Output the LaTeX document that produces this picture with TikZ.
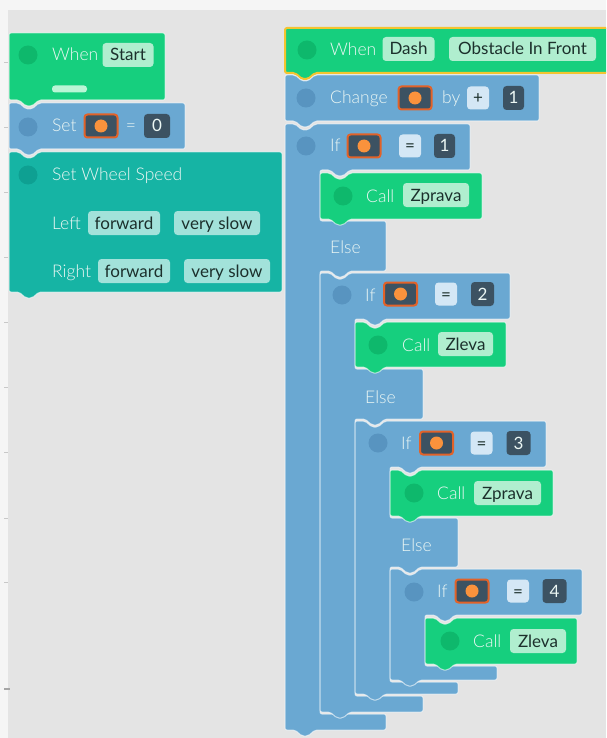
\documentclass[tikz,border=0pt]{standalone}
\usepackage{fontspec}
\setmainfont{Lato}
\newfontfamily\lightfont{Lato Light}
\definecolor{canvas}{RGB}{228,228,228}
\definecolor{strip}{RGB}{245,245,245}
\definecolor{grn}{RGB}{22,207,126}
\definecolor{grndot}{RGB}{14,184,108}
\definecolor{pgrn}{RGB}{176,238,207}
\definecolor{pbar}{RGB}{186,246,214}
\definecolor{blu}{RGB}{106,168,210}
\definecolor{bludot}{RGB}{88,148,192}
\definecolor{tea}{RGB}{22,180,164}
\definecolor{teadot}{RGB}{14,160,146}
\definecolor{ptea}{RGB}{162,226,218}
\definecolor{slate}{RGB}{60,82,98}
\definecolor{orng}{RGB}{226,98,40}
\definecolor{odot}{RGB}{250,146,60}
\definecolor{lbox}{RGB}{212,231,245}
\definecolor{txtw}{RGB}{236,247,244}
\definecolor{txtd}{RGB}{28,48,44}
\definecolor{yel}{RGB}{244,196,48}
\definecolor{tickc}{RGB}{200,200,200}
% block outlines: plain statement blocks and event (hat) blocks
\newcommand\hatblk[5]{\path[blk,#1] (#2,#5) -- (#2,#3) -- (#4,#3) -- (#4,#5) -- (#2+30,#5) -- (#2+23,#5+6) -- (#2+17,#5+6) -- (#2+10,#5) -- cycle;}
\newcommand\stmblk[5]{\path[blk,#1] (#2,#5) -- (#2,#3) -- (#2+10,#3) -- (#2+17,#3+6) -- (#2+23,#3+6) -- (#2+30,#3) -- (#4,#3) -- (#4,#5) -- (#2+30,#5) -- (#2+23,#5+6) -- (#2+17,#5+6) -- (#2+10,#5) -- cycle;}
% if/else block: L, top, header right, header bottom, else top, else right, else bottom, foot top, foot bottom
\newcommand\ifelseblk[9]{\path[blk,fill=blu] (#1,#9) -- (#1,#2) -- (#1+10,#2) -- (#1+17,#2+6) -- (#1+23,#2+6) -- (#1+30,#2) -- (#3,#2) -- (#3,#4)
  -- (#1+65,#4) -- (#1+58,#4+6) -- (#1+52,#4+6) -- (#1+45,#4) -- (#1+35,#4) -- (#1+35,#5) -- (#6,#5) -- (#6,#7)
  -- (#1+65,#7) -- (#1+58,#7+6) -- (#1+52,#7+6) -- (#1+45,#7) -- (#1+35,#7) -- (#1+35,#8) -- (#6,#8) -- (#6,#9)
  -- (#1+30,#9) -- (#1+23,#9+6) -- (#1+17,#9+6) -- (#1+10,#9) -- cycle;}
% if block without else: L, top, header right, header bottom, foot top, foot right, foot bottom
\newcommand\ifblk[7]{\path[blk,fill=blu] (#1,#7) -- (#1,#2) -- (#1+10,#2) -- (#1+17,#2+6) -- (#1+23,#2+6) -- (#1+30,#2) -- (#3,#2) -- (#3,#4)
  -- (#1+65,#4) -- (#1+58,#4+6) -- (#1+52,#4+6) -- (#1+45,#4) -- (#1+35,#4) -- (#1+35,#5) -- (#6,#5) -- (#6,#7)
  -- (#1+30,#7) -- (#1+23,#7+6) -- (#1+17,#7+6) -- (#1+10,#7) -- cycle;}
\begin{document}
\begin{tikzpicture}[x=1pt,y=-1pt,
  blk/.style={draw=white,draw opacity=0.6,line width=1pt,rounded corners=2pt,line join=round},
  dot/.style={circle,inner sep=0pt,minimum size=19pt},
  lbl/.style={inner sep=0pt,anchor=west,text height=12pt,text depth=0pt,font=\lightfont\fontsize{17.5}{17.5}\selectfont,text=txtw},
  pill/.style={rectangle,rounded corners=3.5pt,inner xsep=3pt,inner ysep=0pt,minimum height=24pt,text height=12pt,text depth=0pt,font=\fontsize{17}{17}\selectfont,text=txtd},
  varbox/.style={rectangle,rounded corners=3pt,fill=slate,draw=orng,line width=2pt,minimum width=33pt,minimum height=23pt,inner sep=0pt},
  numbox/.style={pill,fill=slate,text=txtw,minimum width=22pt},
  opbox/.style={pill,fill=lbox,text=txtd,minimum width=22pt,minimum height=23pt},
  vdot/.style={circle,fill=odot,inner sep=0pt,minimum size=13pt}]
\useasboundingbox (0,0) rectangle (606,738);
\fill[strip] (0,0) rectangle (606,738);
\fill[canvas] (8,10) rectangle (606,738);
\clip (0,0) rectangle (606,738);
% ruler ticks along the left edge
\foreach \t in {62,127,192,257,322,387,452,518,582}
  \draw[tickc,line width=0.8pt] (4,\t) -- (8,\t);
\draw[gray!70,line width=1.2pt] (4,689) -- (10,689);

% ---------- start script ----------
\hatblk{fill=grn}{9}{33}{165}{100}
\node[dot,fill=grndot] (d1) at (28,55) {};
\node[lbl] (when1) at (52,55) {When};
\node[pill,fill=pgrn,minimum width=51pt] (start) at (128,55) {Start};
\node[rectangle,rounded corners=3pt,fill=pbar,minimum width=35pt,minimum height=7pt,inner sep=0pt] (bar) at (69.5,89) {};

\stmblk{fill=blu}{9}{103}{185}{149}
\node[dot,fill=bludot] (d2) at (28,127) {};
\node[lbl] (set) at (52,126) {Set};
\node[varbox] (v0) at (101,126) {};
\node[vdot] (v0d) at (v0.center) {};
\node[lbl,anchor=center] (eq0) at (131,126) {=};
\node[numbox,minimum width=26pt] (n0) at (157,126) {0};

\stmblk{fill=tea}{9}{152}{282}{292}
\node[dot,fill=teadot] (d3) at (28,175) {};
\node[lbl] (sws) at (52,175) {Set Wheel Speed};
\node[lbl] (left) at (52,223) {Left};
\node[pill,fill=ptea,minimum width=72pt] (lf) at (124,223) {forward};
\node[pill,fill=ptea,minimum width=86pt] (ls) at (217,223) {very slow};
\node[lbl] (right) at (52,271) {Right};
\node[pill,fill=ptea,minimum width=72pt] (rf) at (134,271) {forward};
\node[pill,fill=ptea,minimum width=86pt] (rs) at (227,271) {very slow};

% ---------- obstacle script ----------
\hatblk{fill=grn,draw=yel,draw opacity=1,line width=2pt}{285}{28}{640}{73}
\node[dot,fill=grndot] (d4) at (307,50) {};
\node[lbl] (when2) at (330,50) {When};
\node[pill,fill=pgrn,minimum width=52pt] (dash) at (408.5,49) {Dash};
\node[pill,fill=pgrn,minimum width=147pt] (obst) at (522.5,49) {Obstacle In Front};

\stmblk{fill=blu}{285}{75}{539}{121}
\node[dot,fill=bludot] (d5) at (306,98) {};
\node[lbl] (chg) at (330,98) {Change};
\node[varbox] (v1) at (415,98) {};
\node[vdot] (v1d) at (v1.center) {};
\node[lbl] (by) at (442,98) {by};
\node[opbox] (plus) at (478,98) {+};
\node[numbox,minimum width=21pt] (one) at (513.5,98) {1};

% if = 1
\ifelseblk{285}{124}{470}{170}{221}{386}{271}{714}{730}
\node[dot,fill=bludot] (d6) at (306,146) {};
\node[lbl] (if1) at (330,146) {If};
\node[varbox] (v2) at (364,146) {};
\node[vdot] (v2d) at (v2.center) {};
\node[opbox] (eq1) at (410,146) {=};
\node[numbox,minimum width=21pt] (k1) at (444.5,146) {1};
\stmblk{fill=grn}{320}{173}{482}{219}
\node[dot,fill=grndot] (d7) at (343,196) {};
\node[lbl] (call1) at (366,196) {Call};
\node[pill,fill=pgrn,minimum width=66pt] (zp1) at (436,195) {Zprava};
\node[lbl] (else1) at (330,247) {Else};

% if = 2
\ifelseblk{320}{273}{510}{319}{369}{423}{419}{696}{712}
\node[dot,fill=bludot] (d8) at (342,295) {};
\node[lbl] (if2) at (365,295) {If};
\node[varbox] (v3) at (400.5,294) {};
\node[vdot] (v3d) at (v3.center) {};
\node[opbox] (eq2) at (446,294) {=};
\node[numbox,minimum width=23pt] (k2) at (482.5,294) {2};
\stmblk{fill=grn}{355}{322}{506}{367}
\node[dot,fill=grndot] (d9) at (378,345) {};
\node[lbl] (call2) at (402,345) {Call};
\node[pill,fill=pgrn,minimum width=55pt] (zl2) at (465.5,344) {Zleva};
\node[lbl] (else2) at (365,397) {Else};

% if = 3
\ifelseblk{355}{421}{546}{467}{518}{458}{567}{682}{694}
\node[dot,fill=bludot] (d10) at (378,443) {};
\node[lbl] (if3) at (401,443) {If};
\node[varbox] (v4) at (436.5,443) {};
\node[vdot] (v4d) at (v4.center) {};
\node[opbox] (eq3) at (481.5,443) {=};
\node[numbox,minimum width=24pt] (k3) at (518.5,443) {3};
\stmblk{fill=grn}{390}{470}{553}{516}
\node[dot,fill=grndot] (d11) at (414,493) {};
\node[lbl] (call3) at (437,493) {Call};
\node[pill,fill=pgrn,minimum width=67pt] (zp3) at (507.5,493) {Zprava};
\node[lbl] (else3) at (401,545) {Else};

% if = 4
\ifblk{390}{569}{582}{615}{666}{497}{680}
\node[dot,fill=bludot] (d12) at (414,592) {};
\node[lbl] (if4) at (437,591) {If};
\node[varbox] (v5) at (472,591) {};
\node[vdot] (v5d) at (v5.center) {};
\node[opbox] (eq4) at (518,591) {=};
\node[numbox,minimum width=24pt] (k4) at (554.5,591) {4};
\stmblk{fill=grn}{425}{618}{577}{664}
\node[dot,fill=grndot] (d13) at (450,641) {};
\node[lbl] (call4) at (473,641) {Call};
\node[pill,fill=pgrn,minimum width=56pt] (zl4) at (538,641) {Zleva};
\end{tikzpicture}
\end{document}
